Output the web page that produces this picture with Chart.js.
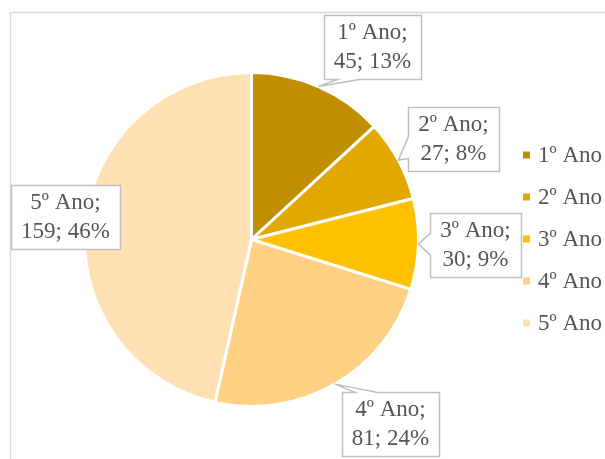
<!DOCTYPE html>
<html><head><meta charset="utf-8">
<script src="https://cdn.jsdelivr.net/npm/chart.js@4/dist/chart.umd.min.js"></script>
<style>html,body{margin:0;padding:0;background:#fff}#wrap{width:605px;height:459px}</style>
</head><body><div id="wrap"><canvas id="c" width="605" height="459"></canvas></div>
<script>
const categories = ["1º Ano", "2º Ano", "3º Ano", "4º Ano", "5º Ano"];
const values = [45, 27, 30, 81, 159];
const percents = ["13%", "8%", "9%", "24%", "46%"];
const colors = ["#BF8F00", "#E2A800", "#FFC000", "#FFD185", "#FEE0B3"];

// callout box centres relative to pie centre (layout only)
const calloutOffsets = [[121,-192.5],[202,-100.5],[224,5.5],[139,184.5],[-186,-23]];

const FONT = '"Liberation Serif", "Times New Roman", serif';

const framePlugin = {
  id: 'frame',
  beforeDraw(chart) {
    const ctx = chart.ctx;
    ctx.save();
    ctx.fillStyle = '#fff';
    ctx.fillRect(0,0,chart.width,chart.height);
    ctx.strokeStyle = '#d9d9d9';
    ctx.lineWidth = 1.5;
    ctx.beginPath();
    ctx.moveTo(10.5, chart.height + 5);
    ctx.lineTo(10.5, 12.5);
    ctx.lineTo(chart.width + 5, 12.5);
    ctx.stroke();
    ctx.restore();
  }
};

const legendPlugin = {
  id: 'customLegend',
  afterDraw(chart) {
    const ctx = chart.ctx;
    ctx.save();
    ctx.font = '23px ' + FONT;
    ctx.textBaseline = 'middle';
    const x0 = 523, y0 = 155, step = 42;
    chart.data.labels.forEach((lab, i) => {
      const y = y0 + i * step;
      ctx.fillStyle = chart.data.datasets[0].backgroundColor[i];
      ctx.fillRect(x0, y - 3.5, 7, 7);
      ctx.fillStyle = '#555555';
      ctx.fillText(lab, x0 + 15, y + 1);
    });
    ctx.restore();
  }
};

const calloutPlugin = {
  id: 'callouts',
  afterDatasetsDraw(chart) {
    const ctx = chart.ctx;
    const meta = chart.getDatasetMeta(0);
    ctx.save();
    ctx.font = '23px ' + FONT;
    meta.data.forEach((arc, i) => {
      const p = arc.getProps(['x','y','startAngle','endAngle','outerRadius'], true);
      const mid = (p.startAngle + p.endAngle) / 2;
      const tip = [p.x + p.outerRadius * Math.cos(mid), p.y + p.outerRadius * Math.sin(mid)];
      const l1 = chart.data.labels[i] + ';';
      const l2 = chart.data.datasets[0].data[i] + '; ' + percents[i];
      const w = Math.max(ctx.measureText(l1).width, ctx.measureText(l2).width) + 20;
      const h = 64;
      const cx = p.x + calloutOffsets[i][0], cy = p.y + calloutOffsets[i][1];
      const L = Math.round(cx - w/2) + 0.5, R = Math.round(cx + w/2) + 0.5;
      const T = Math.round(cy - h/2) + 0.5, B = Math.round(cy + h/2) + 0.5;
      const clamp = (v, a, b) => Math.max(a, Math.min(b, v));
      let side = null;
      if (tip[1] > B) side = 'bottom';
      else if (tip[1] < T) side = 'top';
      else if (tip[0] < L) side = 'left';
      else if (tip[0] > R) side = 'right';
      const hw = 11, off = 24;
      ctx.beginPath();
      ctx.moveTo(L, T);
      if (side === 'top') { const c = clamp(tip[0], L+off, R-off); ctx.lineTo(c-hw, T); ctx.lineTo(tip[0], tip[1]); ctx.lineTo(c+hw, T); }
      ctx.lineTo(R, T);
      if (side === 'right') { const c = clamp(tip[1], T+off, B-off); ctx.lineTo(R, c-hw); ctx.lineTo(tip[0], tip[1]); ctx.lineTo(R, c+hw); }
      ctx.lineTo(R, B);
      if (side === 'bottom') { const c = clamp(tip[0], L+off, R-off); ctx.lineTo(c+hw, B); ctx.lineTo(tip[0], tip[1]); ctx.lineTo(c-hw, B); }
      ctx.lineTo(L, B);
      if (side === 'left') { const c = clamp(tip[1], T+off, B-off); ctx.lineTo(L, c+hw); ctx.lineTo(tip[0], tip[1]); ctx.lineTo(L, c-hw); }
      ctx.closePath();
      ctx.fillStyle = '#fff';
      ctx.fill();
      ctx.strokeStyle = '#bfbfbf';
      ctx.lineWidth = 1.5;
      ctx.stroke();
      ctx.fillStyle = '#555555';
      ctx.textAlign = 'center';
      ctx.textBaseline = 'middle';
      ctx.fillText(l1, cx, cy - 14);
      ctx.fillText(l2, cx, cy + 15);
    });
    ctx.restore();
  }
};

new Chart(document.getElementById('c'), {
  type: 'pie',
  data: {
    labels: categories,
    datasets: [{ data: values, backgroundColor: colors, borderColor: '#fff', borderWidth: 3 }]
  },
  options: {
    responsive: false,
    animation: false,
    layout: { padding: { left: 83, top: 71, right: 185, bottom: 51 } },
    plugins: { legend: { display: false }, tooltip: { enabled: false } }
  },
  plugins: [framePlugin, calloutPlugin, legendPlugin]
});
</script></body></html>
